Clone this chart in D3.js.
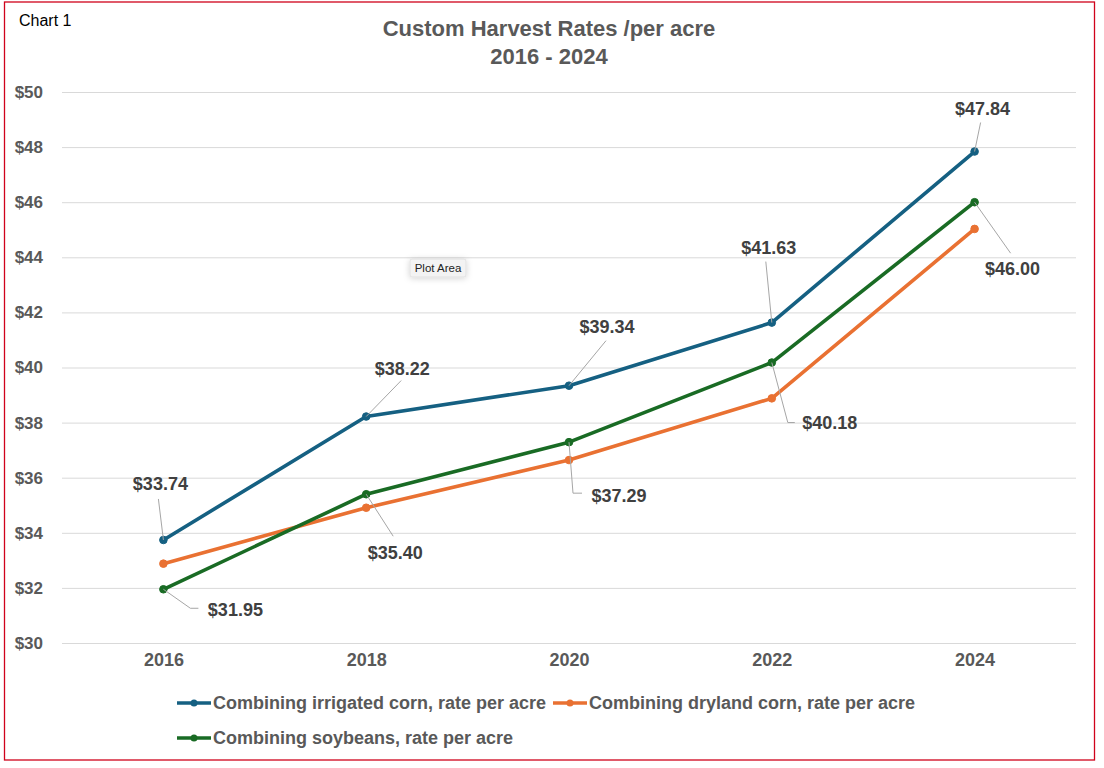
<!DOCTYPE html>
<html>
<head>
<meta charset="utf-8">
<script src="https://cdn.jsdelivr.net/npm/d3@7"></script>
<style>
  html, body { margin: 0; padding: 0; background: #fff; }
  svg { display: block; }
  text { font-family: "Liberation Sans", Arial, Helvetica, sans-serif; }
</style>
</head>
<body>
<svg id="chart" width="1104" height="768"></svg>
<script>
// ---------- DATA ----------
const years = ["2016", "2018", "2020", "2022", "2024"];
const seriesNames = [
  "Combining irrigated corn, rate per acre",
  "Combining dryland corn, rate per acre",
  "Combining soybeans, rate per acre"
];
const irrigatedCorn = [33.74, 38.22, 39.34, 41.63, 47.84];
const drylandCorn   = [32.88, 34.91, 36.64, 38.88, 45.03];
const soybeans      = [31.95, 35.40, 37.29, 40.18, 46.00];
const yTicks = [30, 32, 34, 36, 38, 40, 42, 44, 46, 48, 50];
const chartTitle = ["Custom Harvest Rates /per acre", "2016 - 2024"];

// ---------- LAYOUT / STYLE ----------
const colors = ["#156082", "#E97132", "#196B24"];
const plot = { left: 62, right: 1076, top: 92, bottom: 643 };

// label placement (pixel offsets from the point) and leader lines
const irrigatedLabelLayout = [
  { dx: -3, dy: -56, leader: [[-5, -41]] },
  { dx: 36, dy: -48, leader: [[35, -36]] },
  { dx: 38, dy: -59, leader: [[37, -45]] },
  { dx: -3, dy: -75, leader: [[-6, -61]] },
  { dx: 8,  dy: -43, leader: [[6, -29]] }
];
const soyLabelLayout = [
  { dx: 72, dy: 20, leader: [[27, 19], [35, 19]] },
  { dx: 29, dy: 58, leader: [[27, 42]] },
  { dx: 50, dy: 53, leader: [[4, 51], [13, 51]] },
  { dx: 58, dy: 60, leader: [[16, 60], [23, 60]] },
  { dx: 38, dy: 66, leader: [[36, 51]] }
];

const svg = d3.select("#chart");

// chart border
svg.append("rect")
  .attr("x", 4.5).attr("y", 2)
  .attr("width", 1090).attr("height", 758)
  .attr("fill", "#fff")
  .attr("stroke", "#D0021B")
  .attr("stroke-width", 1.3);

// "Chart 1"
svg.append("text")
  .attr("x", 19).attr("y", 26)
  .attr("font-size", 16)
  .attr("fill", "#000")
  .text("Chart 1");

// title
svg.append("text")
  .attr("x", 549).attr("y", 36)
  .attr("text-anchor", "middle")
  .attr("font-size", 22).attr("font-weight", "bold")
  .attr("fill", "#595959")
  .text(chartTitle[0]);
svg.append("text")
  .attr("x", 549).attr("y", 64)
  .attr("text-anchor", "middle")
  .attr("font-size", 22).attr("font-weight", "bold")
  .attr("fill", "#595959")
  .text(chartTitle[1]);

// scales
const x = d3.scalePoint().domain(years).range([plot.left, plot.right]).padding(0.5);
const y = d3.scaleLinear().domain([30, 50]).range([plot.bottom, plot.top]);

// gridlines + y axis labels via d3 axis
const yAxis = d3.axisLeft(y).tickValues(yTicks)
  .tickSize(-(plot.right - plot.left))
  .tickPadding(19)
  .tickFormat(d => "$" + d);
const gy = svg.append("g").attr("transform", `translate(${plot.left},0)`).call(yAxis);
gy.select(".domain").remove();
gy.selectAll(".tick line").attr("stroke", "#D9D9D9").attr("stroke-width", 1);
gy.selectAll(".tick text")
  .attr("font-size", 17).attr("font-weight", "bold")
  .attr("fill", "#595959")
  .attr("font-family", "Liberation Sans, Arial, sans-serif");

// x axis labels
const xAxis = d3.axisBottom(x).tickSize(0).tickPadding(10);
const gx = svg.append("g").attr("transform", `translate(0,${plot.bottom})`).call(xAxis);
gx.select(".domain").remove();
gx.selectAll(".tick text")
  .attr("font-size", 18).attr("font-weight", "bold")
  .attr("fill", "#595959")
  .attr("font-family", "Liberation Sans, Arial, sans-serif");

// series
const series = [irrigatedCorn, drylandCorn, soybeans];
const line = d3.line().x((d, i) => x(years[i])).y(d => y(d));
const drawOrder = [1, 0, 2];
drawOrder.forEach(si => {
  const vals = series[si];
  svg.append("path")
    .datum(vals)
    .attr("d", line)
    .attr("fill", "none")
    .attr("stroke", colors[si])
    .attr("stroke-width", 3.6)
    .attr("stroke-linejoin", "round");
  svg.selectAll(null).data(vals).enter().append("circle")
    .attr("cx", (d, i) => x(years[i]))
    .attr("cy", d => y(d))
    .attr("r", 3.8)
    .attr("fill", colors[si])
    .attr("stroke", colors[si])
    .attr("stroke-width", 1);
});

// data labels with leader lines
function drawLabels(vals, layout) {
  vals.forEach((v, i) => {
    const px = x(years[i]), py = y(v);
    const L = layout[i];
    const pts = [[px, py]].concat(L.leader.map(p => [px + p[0], py + p[1]]));
    svg.append("path")
      .attr("d", d3.line()(pts))
      .attr("fill", "none")
      .attr("stroke", "#A6A6A6")
      .attr("stroke-width", 1);
    svg.append("text")
      .attr("x", px + L.dx).attr("y", py + L.dy)
      .attr("dy", "0.36em")
      .attr("text-anchor", "middle")
      .attr("font-size", 18).attr("font-weight", "bold")
      .attr("fill", "#404040")
      .text("$" + v.toFixed(2));
  });
}
drawLabels(irrigatedCorn, irrigatedLabelLayout);
drawLabels(soybeans, soyLabelLayout);

// legend
const legendItems = [
  { x: 177, y: 703, text: seriesNames[0], c: colors[0] },
  { x: 553, y: 703, text: seriesNames[1], c: colors[1] },
  { x: 177, y: 738, text: seriesNames[2], c: colors[2] }
];
legendItems.forEach(it => {
  const g = svg.append("g").attr("transform", `translate(${it.x},${it.y})`);
  g.append("line").attr("x1", 0).attr("x2", 34).attr("y1", 0).attr("y2", 0)
    .attr("stroke", it.c).attr("stroke-width", 3.5);
  g.append("circle").attr("cx", 17).attr("cy", 0).attr("r", 3.5).attr("fill", it.c);
  g.append("text").attr("x", 36).attr("y", 0).attr("dy", "0.36em")
    .attr("font-size", 18).attr("font-weight", "bold")
    .attr("fill", "#595959")
    .text(it.text);
});

// "Plot Area" tooltip
const defs = svg.append("defs");
const f = defs.append("filter").attr("id", "sh").attr("x", "-50%").attr("y", "-50%").attr("width", "200%").attr("height", "200%");
f.append("feDropShadow").attr("dx", 0).attr("dy", 1).attr("stdDeviation", 3).attr("flood-color", "#000").attr("flood-opacity", 0.18);
svg.append("rect")
  .attr("x", 410).attr("y", 259).attr("width", 56).attr("height", 18).attr("rx", 2)
  .attr("fill", "#F3F3F3").attr("stroke", "#D6D6D6").attr("stroke-width", 0.6)
  .attr("filter", "url(#sh)");
svg.append("text")
  .attr("x", 438).attr("y", 272)
  .attr("text-anchor", "middle")
  .attr("font-size", 11.5)
  .attr("fill", "#222")
  .text("Plot Area");
</script>
</body>
</html>
